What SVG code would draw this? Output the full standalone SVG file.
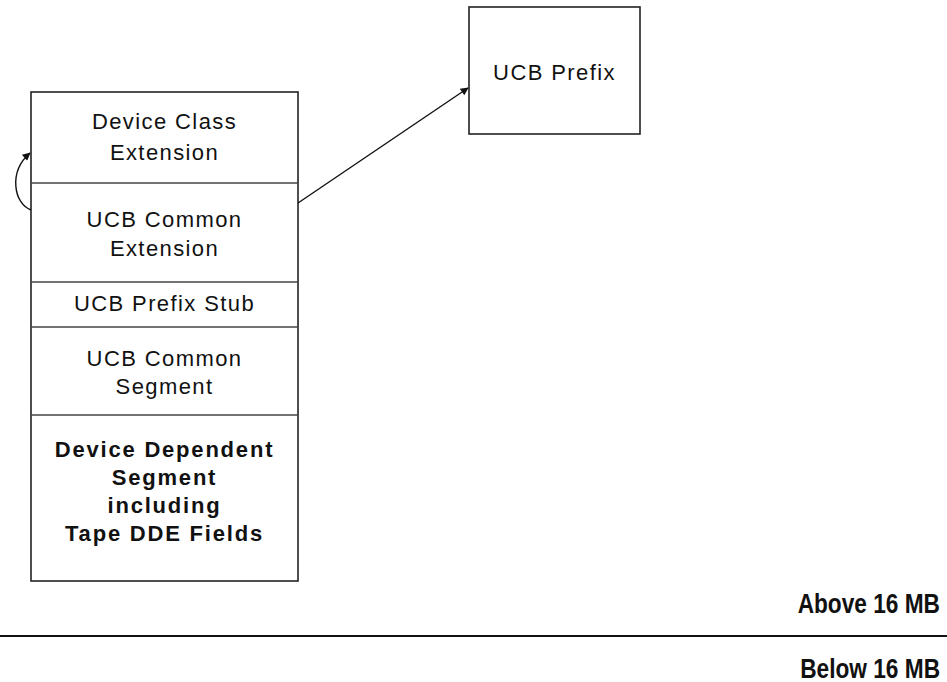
<svg xmlns="http://www.w3.org/2000/svg" width="947" height="682" viewBox="0 0 947 682">
<style>
.box{fill:#fff;stroke:#222;stroke-width:1.6}
.div{stroke:#444;stroke-width:1.3}
.t{font-family:"Liberation Sans",Arial,sans-serif;font-size:22px;letter-spacing:1.4px;fill:#111;text-anchor:middle}
.b{font-weight:bold;letter-spacing:1.8px}
.r{text-anchor:end;font-weight:bold;font-size:28px;letter-spacing:0}
.c{fill:none;stroke:#111;stroke-width:1.4}
</style>
<defs>
<marker id="ah" viewBox="0 0 10 10" refX="9" refY="5" markerWidth="11" markerHeight="8" markerUnits="userSpaceOnUse" orient="auto">
<path d="M0,0 L10,5 L0,10 z" fill="#111"/>
</marker>
</defs>
<g id="ucb-stack">
<rect class="box" x="31" y="92" width="267" height="489"/>
<line class="div" x1="31" y1="183" x2="298" y2="183"/>
<line class="div" x1="31" y1="282" x2="298" y2="282"/>
<line class="div" x1="31" y1="327" x2="298" y2="327"/>
<line class="div" x1="31" y1="415" x2="298" y2="415"/>
</g>
<g id="device-class-extension">
<text class="t" x="164.5" y="129">Device Class</text>
<text class="t" x="164.5" y="160">Extension</text>
</g>
<g id="ucb-common-extension">
<text class="t" x="164.5" y="227">UCB Common</text>
<text class="t" x="164.5" y="256">Extension</text>
</g>
<g id="ucb-prefix-stub">
<text class="t" x="164.5" y="311">UCB Prefix Stub</text>
</g>
<g id="ucb-common-segment">
<text class="t" x="164.5" y="366">UCB Common</text>
<text class="t" x="164.5" y="394">Segment</text>
</g>
<g id="device-dependent-segment">
<text class="t b" x="164.5" y="457">Device Dependent</text>
<text class="t b" x="164.5" y="485">Segment</text>
<text class="t b" x="164.5" y="513">including</text>
<text class="t b" x="164.5" y="541">Tape DDE Fields</text>
</g>
<g id="ucb-prefix">
<rect class="box" x="469" y="7" width="171" height="127"/>
<text class="t" x="554.5" y="80">UCB Prefix</text>
</g>
<g id="connectors">
<path class="c" d="M298,203 L468,88" marker-end="url(#ah)"/>
<path class="c" d="M31,210 C14,204 8,172 30,153" marker-end="url(#ah)"/>
</g>
<g id="boundary">
<line x1="0" y1="636" x2="947" y2="636" stroke="#111" stroke-width="2.2"/>
<text class="t r" transform="translate(940,613) scale(0.81,1)" x="0" y="0">Above 16 MB</text>
<text class="t r" transform="translate(940,678) scale(0.81,1)" x="0" y="0">Below 16 MB</text>
</g>
</svg>
